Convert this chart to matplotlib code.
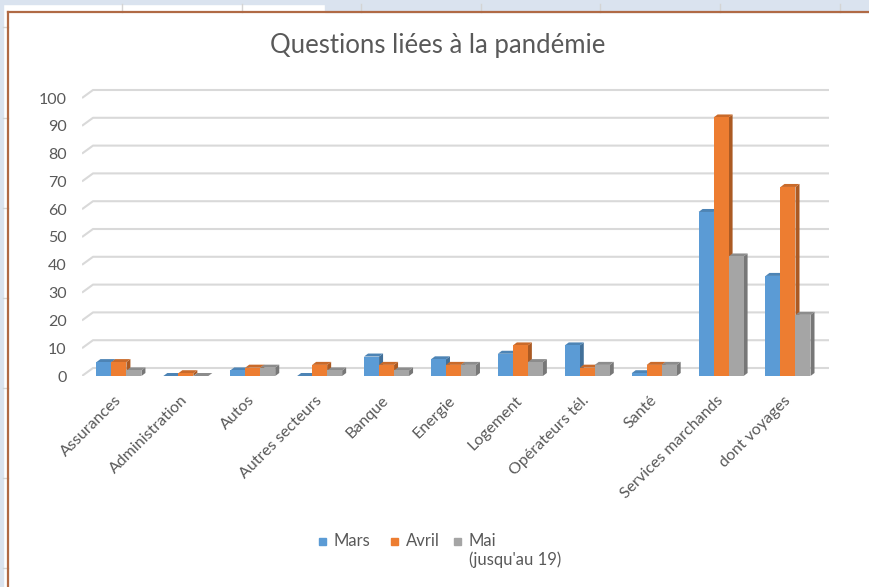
import numpy as np
import matplotlib
matplotlib.use("Agg")
import matplotlib.pyplot as plt
from matplotlib.patches import Polygon, Rectangle
from matplotlib.lines import Line2D
import matplotlib.colors as mcolors

matplotlib.rcParams['font.family'] = ["Lato", "DejaVu Sans"]

# data
categories = ["Assurances", "Administration", "Autos", "Autres secteurs", "Banque",
              "Energie", "Logement", "Opérateurs tél.", "Santé",
              "Services marchands", "dont voyages"]
mars = [5, 0, 2, 0, 7, 6, 8, 11, 1, 59, 36]
avril = [5, 1, 3, 4, 4, 4, 11, 3, 4, 93, 68]
mai = [2, 0, 3, 2, 2, 4, 5, 4, 4, 43, 22]
series_names = ["Mars", "Avril", "Mai\n(jusqu'au 19)"]
yticks = list(range(0, 101, 10))

colors = ["#5b9bd5", "#ed7d31", "#a5a5a5"]
text_color = "#595959"

W, H = 870, 587
fig = plt.figure(figsize=(W / 100, H / 100), dpi=100)
fig.patch.set_facecolor("white")


def fx(px):
    return px / W


def fy(py):
    return 1 - py / H


# spreadsheet background around the chart
fig.patches.append(Rectangle((0, fy(4)), 1, 4 / H, transform=fig.transFigure,
                             color="#dae3ef", zorder=0))
fig.patches.append(Rectangle((fx(325), fy(12)), 1, 12 / H, transform=fig.transFigure,
                             color="#dae3ef", zorder=0))
fig.patches.append(Rectangle((0, 0), 3 / W, 1, transform=fig.transFigure,
                             color="#dae3ef", zorder=0))
for xc in [122, 242, 361, 481, 600, 720, 840]:
    fig.add_artist(Line2D([fx(xc), fx(xc)], [fy(12), fy(4)], color="#d4d4d4", lw=1))
for yc in [27, 118, 208, 298, 388, 478, 568]:
    fig.add_artist(Line2D([fx(3), fx(8)], [fy(yc), fy(yc)], color="#d4d4d4", lw=1))
fig.add_artist(Line2D([fx(8), 1], [fy(12), fy(12)], color="#b06a45", lw=1.6))
fig.add_artist(Line2D([fx(8), fx(8)], [fy(12), 0], color="#b06a45", lw=1.6))

# plot area
ax = fig.add_axes([fx(82), fy(376), (829 - 82) / W, (376 - 85) / H])
px_x = 66.9   # pixels per category
px_y = 2.78   # pixels per unit
ax.set_xlim(-0.552, (829 - 119) / px_x)
ax.set_ylim(0, (376 - 85) / px_y)
for s in ax.spines.values():
    s.set_visible(False)
ax.set_facecolor("none")

# back wall gridlines with floor perspective
dxw, dyw = 11 / px_x, 8 / px_y
x0 = -0.552
xend = (829 - 119) / px_x
for v in yticks:
    ax.plot([x0, x0 + dxw, xend], [v, v + dyw, v + dyw], color="#d9d9d9",
            lw=1.5, zorder=1, solid_capstyle="butt")

# pseudo 3D clustered columns
w = 15 / px_x
ddx, ddy = 4 / px_x, 3 / px_y
pos = np.arange(len(categories))
for k, (vals, c) in enumerate(zip([mars, avril, mai], colors)):
    rgb = np.array(mcolors.to_rgb(c))
    side = rgb * 0.72
    top = rgb * 0.85
    z = 2 + k * 3
    xs = pos + (k - 1) * w
    ax.bar(xs, vals, width=w, color=c, zorder=z + 2, linewidth=0)
    for xc, v in zip(xs, vals):
        r = xc + w / 2
        l = xc - w / 2
        ax.add_patch(Polygon([(r, 0), (r + ddx, ddy), (r + ddx, v + ddy), (r, v)],
                             closed=True, facecolor=side, edgecolor="none", zorder=z))
        ax.add_patch(Polygon([(l, v), (r, v), (r + ddx, v + ddy), (l + ddx, v + ddy)],
                             closed=True, facecolor=top, edgecolor="none", zorder=z + 1))

ax.set_yticks(yticks)
ax.set_yticklabels([str(v) for v in yticks])
ax.tick_params(axis="y", length=0, pad=11, labelsize=11.5, labelcolor=text_color)
ax.set_xticks(pos)
ax.set_xticklabels(categories, rotation=45, ha="right", va="center",
                   rotation_mode="anchor")
ax.tick_params(axis="x", length=0, pad=16, labelsize=11.5, labelcolor=text_color)

fig.text(fx(438), fy(45), "Questions liées à la pandémie", ha="center", va="center",
         fontsize=18.5, color=text_color)

# legend
leg_sq = [323, 395, 458]
for xc, name, c in zip(leg_sq, series_names, colors):
    fig.patches.append(Rectangle((fx(xc - 3.5), fy(541 + 3.5)), 7 / W, 7 / H,
                                 transform=fig.transFigure, color=c))
    fig.text(fx(xc + 11), fy(533), name, ha="left", va="top", fontsize=12,
             color=text_color, linespacing=1.15)

fig.savefig("out.png", dpi=100)
